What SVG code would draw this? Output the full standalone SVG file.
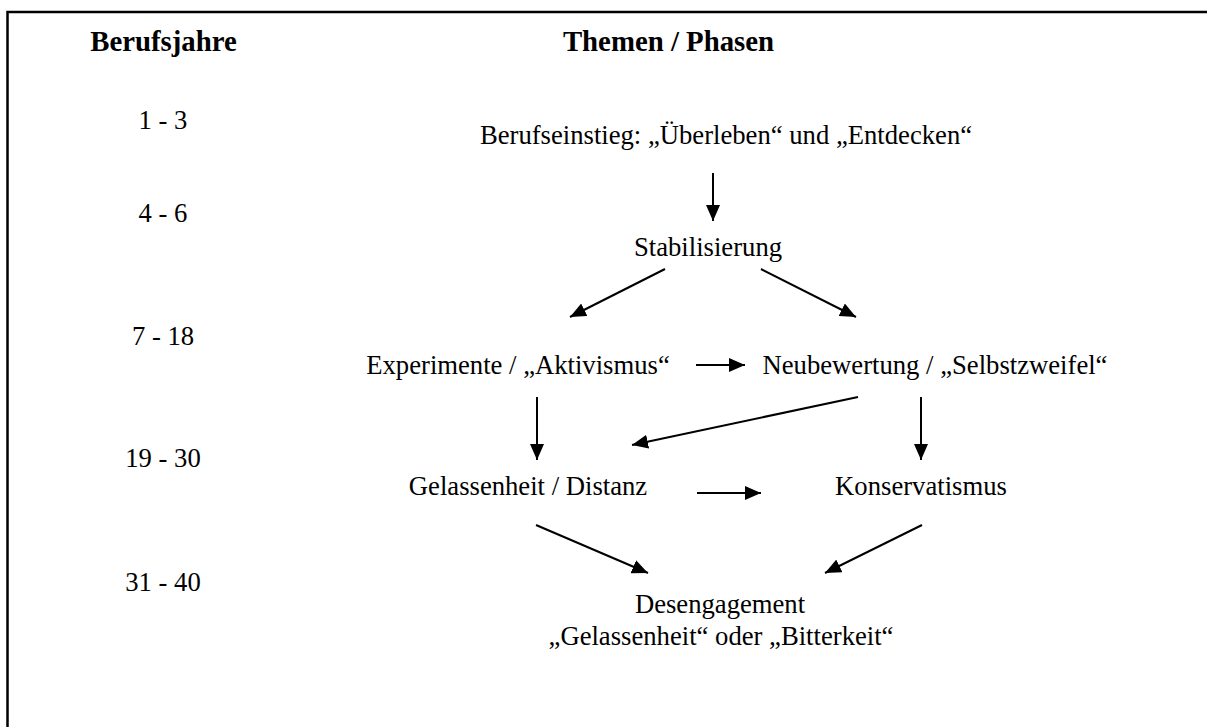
<svg xmlns="http://www.w3.org/2000/svg" width="1207" height="727" viewBox="0 0 1207 727">
<style>
text{font-family:"Liberation Serif","Times New Roman",serif;font-size:26.67px;fill:#000;text-anchor:middle}
.b{font-weight:bold;font-size:28.8px}
.c line{stroke:#000;stroke-width:2;marker-end:url(#ah)}
</style>
<defs>
<marker id="ah" markerUnits="userSpaceOnUse" markerWidth="16" markerHeight="14" refX="16" refY="7" orient="auto">
<path d="M0,0 L16,7 L0,14 Z" fill="#000"/>
</marker>
</defs>
<rect width="1207" height="727" fill="#fff"/>
<g id="frame">
<path d="M7.5,727 V12 H1207" fill="none" stroke="#000" stroke-width="2.5"/>
</g>
<g id="headers">
<text class="b" x="163.5" y="51">Berufsjahre</text>
<text class="b" x="668.5" y="51">Themen / Phasen</text>
</g>
<g id="years">
<text x="163" y="129">1 - 3</text>
<text x="163" y="222">4 - 6</text>
<text x="163" y="345">7 - 18</text>
<text x="163" y="467">19 - 30</text>
<text x="163" y="591">31 - 40</text>
</g>
<g id="n_einstieg"><text x="726" y="144">Berufseinstieg: „Überleben“ und „Entdecken“</text></g>
<g id="n_stab"><text x="708" y="256">Stabilisierung</text></g>
<g id="n_exp"><text x="518" y="374">Experimente / „Aktivismus“</text></g>
<g id="n_neu"><text x="935" y="374">Neubewertung / „Selbstzweifel“</text></g>
<g id="n_gel"><text x="528" y="495">Gelassenheit / Distanz</text></g>
<g id="n_kons"><text x="921" y="495">Konservatismus</text></g>
<g id="n_des"><text x="720" y="613">Desengagement</text><text x="721" y="645">„Gelassenheit“ oder „Bitterkeit“</text></g>
<g id="connectors" class="c">
<line x1="713" y1="173" x2="713" y2="221"/>
<line x1="665" y1="269" x2="570" y2="317"/>
<line x1="761" y1="269" x2="856" y2="317"/>
<line x1="696" y1="365" x2="745" y2="365"/>
<line x1="537" y1="397" x2="537" y2="460"/>
<line x1="858" y1="397" x2="632" y2="445"/>
<line x1="921" y1="397" x2="921" y2="460"/>
<line x1="697" y1="493" x2="761" y2="493"/>
<line x1="536" y1="525" x2="648" y2="573"/>
<line x1="922" y1="525" x2="825" y2="573"/>
</g>
</svg>
